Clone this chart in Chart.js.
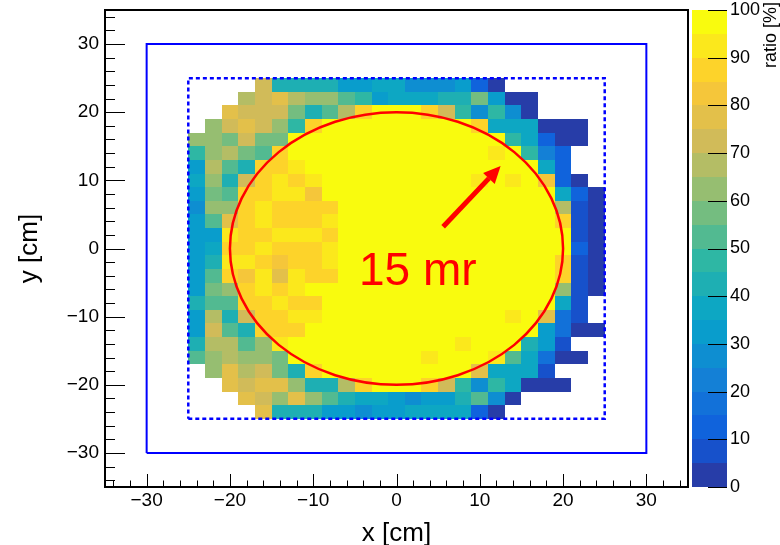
<!DOCTYPE html>
<html>
<head>
<meta charset="utf-8">
<script src="https://cdn.jsdelivr.net/npm/chart.js@4.4.1/dist/chart.umd.min.js"></script>
<style>
  html, body { margin: 0; padding: 0; background: #fff; }
  #wrap { width: 780px; height: 545px; }
</style>
</head>
<body>
<div id="wrap"><canvas id="chart" width="780" height="545"></canvas></div>
<script>
// acceptance ratio map, 2 cm bins
const FONT = "'Liberation Sans', Arial, Helvetica, sans-serif";
const _ = null;   // empty bin
const Y = 97;     // full acceptance (yellow)

const binSize = 2;
const xCenters = [-24,-22,-20,-18,-16,-14,-12,-10,-8,-6,-4,-2,0,2,4,6,8,10,12,14,16,18,20,22,24];
const yCenters = [24,22,20,18,16,14,12,10,8,6,4,2,0,-2,-4,-6,-8,-10,-12,-14,-16,-18,-20,-22,-24];

// rows top (y=24) to bottom (y=-24), columns left (x=-24) to right (x=24), ratio in %
const ratio = [
  [_,_,_,_,72,42,42,42,42,32,32,35,35,27,27,27,32,12,2,_,_,_,_,_,_],
  [_,_,_,67,72,77,67,62,62,52,47,32,35,35,35,42,42,57,32,2,2,_,_,_,_],
  [_,_,77,72,72,72,57,42,52,67,87,Y,Y,Y,85,72,45,27,45,27,2,_,_,_,_],
  [_,62,72,77,72,62,45,87,Y,Y,Y,Y,Y,Y,Y,Y,Y,85,35,35,35,2,2,2,_],
  [62,62,57,72,57,57,Y,Y,Y,Y,Y,Y,Y,Y,Y,Y,Y,Y,Y,45,35,12,2,2,_],
  [47,62,67,57,52,88,Y,Y,Y,Y,Y,Y,Y,Y,Y,Y,Y,Y,92,Y,45,22,10,_,_],
  [32,67,52,42,88,87,92,Y,Y,Y,Y,Y,Y,Y,Y,Y,Y,Y,Y,Y,Y,35,12,_,_],
  [37,62,42,72,87,92,87,92,Y,Y,Y,Y,Y,Y,Y,Y,Y,92,Y,92,Y,82,12,2,_],
  [32,57,52,87,87,92,92,82,Y,Y,Y,Y,Y,Y,Y,Y,Y,Y,Y,Y,Y,Y,35,12,2],
  [27,62,62,87,92,87,87,87,87,Y,Y,Y,Y,Y,Y,Y,Y,Y,Y,Y,Y,Y,67,8,2],
  [32,52,77,87,92,87,87,87,92,Y,Y,Y,Y,Y,Y,Y,Y,Y,Y,Y,Y,Y,87,8,2],
  [32,32,92,87,87,92,92,92,87,Y,Y,Y,Y,Y,Y,Y,Y,Y,Y,Y,Y,Y,Y,8,2],
  [32,37,87,87,92,87,87,87,92,Y,Y,Y,Y,Y,Y,Y,Y,Y,Y,Y,Y,Y,Y,12,2],
  [32,42,92,92,87,82,87,87,92,Y,Y,Y,Y,Y,Y,Y,Y,Y,Y,Y,Y,Y,87,8,2],
  [32,52,87,82,92,77,92,87,87,Y,Y,Y,Y,Y,Y,Y,Y,Y,Y,Y,Y,Y,85,8,2],
  [32,57,62,87,92,87,92,Y,Y,Y,Y,Y,Y,Y,Y,Y,Y,Y,Y,Y,Y,Y,62,8,2],
  [40,52,52,87,87,92,87,87,Y,Y,Y,Y,Y,Y,Y,Y,Y,Y,Y,Y,Y,Y,35,8,_],
  [32,67,42,72,87,87,92,92,Y,Y,Y,Y,Y,Y,Y,Y,Y,Y,Y,92,Y,75,15,8,_],
  [32,73,52,42,87,87,87,Y,Y,Y,Y,Y,Y,Y,Y,Y,Y,Y,Y,Y,Y,32,15,2,2],
  [40,67,67,52,62,92,Y,Y,Y,Y,Y,Y,Y,Y,Y,Y,92,Y,Y,Y,42,32,7,_,_],
  [52,62,67,62,62,57,Y,Y,Y,Y,Y,Y,Y,Y,92,Y,Y,Y,90,52,35,17,2,2,_],
  [_,62,77,67,72,57,42,85,Y,Y,Y,Y,Y,Y,Y,Y,Y,77,37,35,35,7,_,_,_],
  [_,_,75,72,77,75,62,42,42,67,87,Y,Y,Y,87,70,45,27,45,35,2,2,2,_,_],
  [_,_,_,78,72,62,77,62,52,42,37,37,32,27,32,32,40,52,27,2,_,_,_,_,_],
  [_,_,_,_,77,42,42,42,32,32,27,32,32,35,35,35,35,10,2,_,_,_,_,_,_]
];

const xTicks = [-30, -20, -10, 0, 10, 20, 30];
const yTicks = [-30, -20, -10, 0, 10, 20, 30];
const zTicks = [0, 10, 20, 30, 40, 50, 60, 70, 80, 90, 100];
const nContours = 20;

// detector outlines and beam cone (cm)
const outerBox = [{x:-30,y:-30},{x:30,y:-30},{x:30,y:30},{x:-30,y:30},{x:-30,y:-30}];
const innerBox = [{x:-25,y:-25},{x:25,y:-25},{x:25,y:25},{x:-25,y:25},{x:-25,y:-25}];
const coneRadius = 20;
const arrowFrom = [5.6, 3.2];
const arrowTo = [12.5, 12.1];
const coneLabel = '15 mr';
const coneLabelPos = [-4.5, -5.3];

// ROOT kBird palette
const birdStops = [0, 0.125, 0.25, 0.375, 0.5, 0.625, 0.75, 0.875, 1];
const birdR = [0.2082, 0.0592, 0.0780, 0.0232, 0.1802, 0.5301, 0.8186, 0.9956, 0.9764];
const birdG = [0.1664, 0.3599, 0.5041, 0.6419, 0.7178, 0.7492, 0.7328, 0.7862, 0.9832];
const birdB = [0.5293, 0.8684, 0.8385, 0.7914, 0.6425, 0.4662, 0.3499, 0.1968, 0.0539];

function bird(f) {
    let i = 0;
    while (i < birdStops.length - 2 && f > birdStops[i + 1]) i++;
    const t = (f - birdStops[i]) / (birdStops[i + 1] - birdStops[i]);
    const c = arr => Math.round(255 * (arr[i] + t * (arr[i + 1] - arr[i])));
    return `rgb(${c(birdR)},${c(birdG)},${c(birdB)})`;
}

function bandColor(band) {
    const idx = Math.floor((band + 0.99) * 255 / nContours);
    return bird(Math.min(1, idx / 254));
}

function zColor(v) {
    const zMax = zTicks[zTicks.length - 1];
    const band = Math.max(0, Math.min(nContours - 1, Math.floor(v / zMax * nContours)));
    return bandColor(band);
}

const cells = [];
ratio.forEach((row, r) => {
    row.forEach((v, c) => {
        if (v !== null) cells.push({ x: xCenters[c], y: yCenters[r], v: v });
    });
});

const minus = v => String(v).replace('-', '\u2212');

// fixed axis boxes so the frame lands where ROOT put it
function fixVertical(width) {
    return s => { s.width = width; s.paddingTop = 0; s.paddingBottom = 0; };
}

const rootPlot = {
    id: 'rootPlot',
    beforeDatasetsDraw(chart) {
        const { ctx, chartArea: a, scales: { x, y } } = chart;
        ctx.save();
        ctx.beginPath();
        ctx.rect(a.left, a.top, a.right - a.left, a.bottom - a.top);
        ctx.clip();
        chart.data.datasets[0].data.forEach(c => {
            const x0 = Math.round(x.getPixelForValue(c.x - binSize / 2));
            const x1 = Math.round(x.getPixelForValue(c.x + binSize / 2));
            const y0 = Math.round(y.getPixelForValue(c.y + binSize / 2));
            const y1 = Math.round(y.getPixelForValue(c.y - binSize / 2));
            ctx.fillStyle = zColor(c.v);
            ctx.fillRect(x0, y0, x1 - x0, y1 - y0);
        });
        ctx.restore();
    },
    afterDatasetsDraw(chart) {
        const { ctx, scales: { x, y } } = chart;
        ctx.save();
        // beam cone circle
        const cx = x.getPixelForValue(0), cy = y.getPixelForValue(0);
        ctx.strokeStyle = '#ff0000';
        ctx.lineWidth = 2.5;
        ctx.beginPath();
        ctx.ellipse(cx, cy, x.getPixelForValue(coneRadius) - cx, cy - y.getPixelForValue(coneRadius), 0, 0, Math.PI * 2);
        ctx.stroke();

        // arrow
        const ax0 = x.getPixelForValue(arrowFrom[0]), ay0 = y.getPixelForValue(arrowFrom[1]);
        const ax1 = x.getPixelForValue(arrowTo[0]), ay1 = y.getPixelForValue(arrowTo[1]);
        const ang = Math.atan2(ay1 - ay0, ax1 - ax0);
        const head = 17, half = 8;
        const bx = ax1 - head * Math.cos(ang), by = ay1 - head * Math.sin(ang);
        ctx.lineWidth = 5;
        ctx.beginPath();
        ctx.moveTo(ax0, ay0);
        ctx.lineTo(bx, by);
        ctx.stroke();
        ctx.fillStyle = '#ff0000';
        ctx.beginPath();
        ctx.moveTo(ax1, ay1);
        ctx.lineTo(bx + half * Math.sin(ang), by - half * Math.cos(ang));
        ctx.lineTo(bx - half * Math.sin(ang), by + half * Math.cos(ang));
        ctx.closePath();
        ctx.fill();

        // label
        ctx.font = `46px ${FONT}`;
        ctx.textAlign = 'left';
        ctx.textBaseline = 'alphabetic';
        ctx.fillText(coneLabel, x.getPixelForValue(coneLabelPos[0]), y.getPixelForValue(coneLabelPos[1]));
        ctx.restore();
    },
    afterDraw(chart) {
        const { ctx, chartArea: a, scales: { x, y, z } } = chart;
        ctx.save();
        ctx.strokeStyle = '#000';

        // inward tick marks
        ctx.lineWidth = 1;
        ctx.beginPath();
        for (let v = -34; v <= 34; v += binSize) {
            const major = v % 10 === 0;
            const px = Math.round(x.getPixelForValue(v)) + 0.5;
            ctx.moveTo(px, a.bottom);
            ctx.lineTo(px, a.bottom - (major ? 13 : 6.5));
            const py = Math.round(y.getPixelForValue(v)) + 0.5;
            ctx.moveTo(a.left, py);
            ctx.lineTo(a.left + (major ? 20 : 10), py);
        }
        ctx.stroke();

        // frame
        ctx.lineWidth = 2;
        ctx.strokeRect(a.left, a.top, a.right - a.left, a.bottom - a.top);

        // palette
        const zMax = zTicks[zTicks.length - 1];
        const cbL = a.right + 4, cbR = a.right + 39;
        for (let b = 0; b < nContours; b++) {
            const yTop = Math.round(z.getPixelForValue((b + 1) * zMax / nContours));
            const yBot = Math.round(z.getPixelForValue(b * zMax / nContours));
            ctx.fillStyle = bandColor(b);
            ctx.fillRect(cbL, yTop, cbR - cbL, yBot - yTop);
        }
        ctx.lineWidth = 1;
        ctx.beginPath();
        zTicks.forEach(v => {
            const py = Math.round(z.getPixelForValue(v)) + 0.5;
            ctx.moveTo(cbR - 19, py);
            ctx.lineTo(cbR, py);
        });
        ctx.stroke();

        // palette title
        ctx.translate(a.right + 83, 2);
        ctx.rotate(-Math.PI / 2);
        ctx.font = `18px ${FONT}`;
        ctx.fillStyle = '#000';
        ctx.textAlign = 'right';
        ctx.textBaseline = 'middle';
        ctx.fillText('ratio [%]', 0, 0);
        ctx.restore();
    }
};

new Chart(document.getElementById('chart'), {
    type: 'scatter',
    data: {
        datasets: [
            { label: 'ratio', data: cells, pointRadius: 0, showLine: false },
            { label: 'outer', data: outerBox, showLine: true, borderColor: '#0000ff', borderWidth: 2, pointRadius: 0, fill: false },
            { label: 'inner', data: innerBox, showLine: true, borderColor: '#0000ff', borderWidth: 2.5, borderDash: [4, 3], pointRadius: 0, fill: false }
        ]
    },
    options: {
        responsive: false,
        animation: false,
        devicePixelRatio: 1,
        events: [],
        layout: { padding: { top: 10, right: 0, bottom: 0, left: 0 } },
        plugins: { legend: { display: false }, tooltip: { enabled: false } },
        scales: {
            x: {
                type: 'linear', position: 'bottom', min: -35, max: 35,
                afterFit: s => { s.height = 58; s.paddingLeft = 0; s.paddingRight = 0; },
                afterBuildTicks: s => { s.ticks = xTicks.map(v => ({ value: v })); },
                grid: { display: false, drawTicks: false },
                border: { display: false },
                ticks: { color: '#000', padding: 2, maxRotation: 0, font: { family: FONT, size: 19 }, callback: minus },
                title: { display: true, text: 'x [cm]', color: '#000', font: { family: FONT, size: 26 }, padding: { top: 0, bottom: -4 } }
            },
            y: {
                type: 'linear', position: 'left', min: -35, max: 35,
                afterFit: fixVertical(105),
                afterBuildTicks: s => { s.ticks = yTicks.map(v => ({ value: v })); },
                grid: { display: false, drawTicks: false },
                border: { display: false },
                ticks: { color: '#000', padding: 6, font: { family: FONT, size: 19 }, callback: minus },
                title: { display: true, text: 'y [cm]', color: '#000', font: { family: FONT, size: 26 }, padding: { top: 14, bottom: 0 } }
            },
            z: {
                type: 'linear', position: 'right', min: 0, max: 100,
                afterFit: fixVertical(92),
                afterBuildTicks: s => { s.ticks = zTicks.map(v => ({ value: v })); },
                grid: { display: false, drawTicks: false },
                border: { display: false },
                ticks: { color: '#000', padding: 42, font: { family: FONT, size: 18 } }
            }
        }
    },
    plugins: [rootPlot]
});
</script>
</body>
</html>
